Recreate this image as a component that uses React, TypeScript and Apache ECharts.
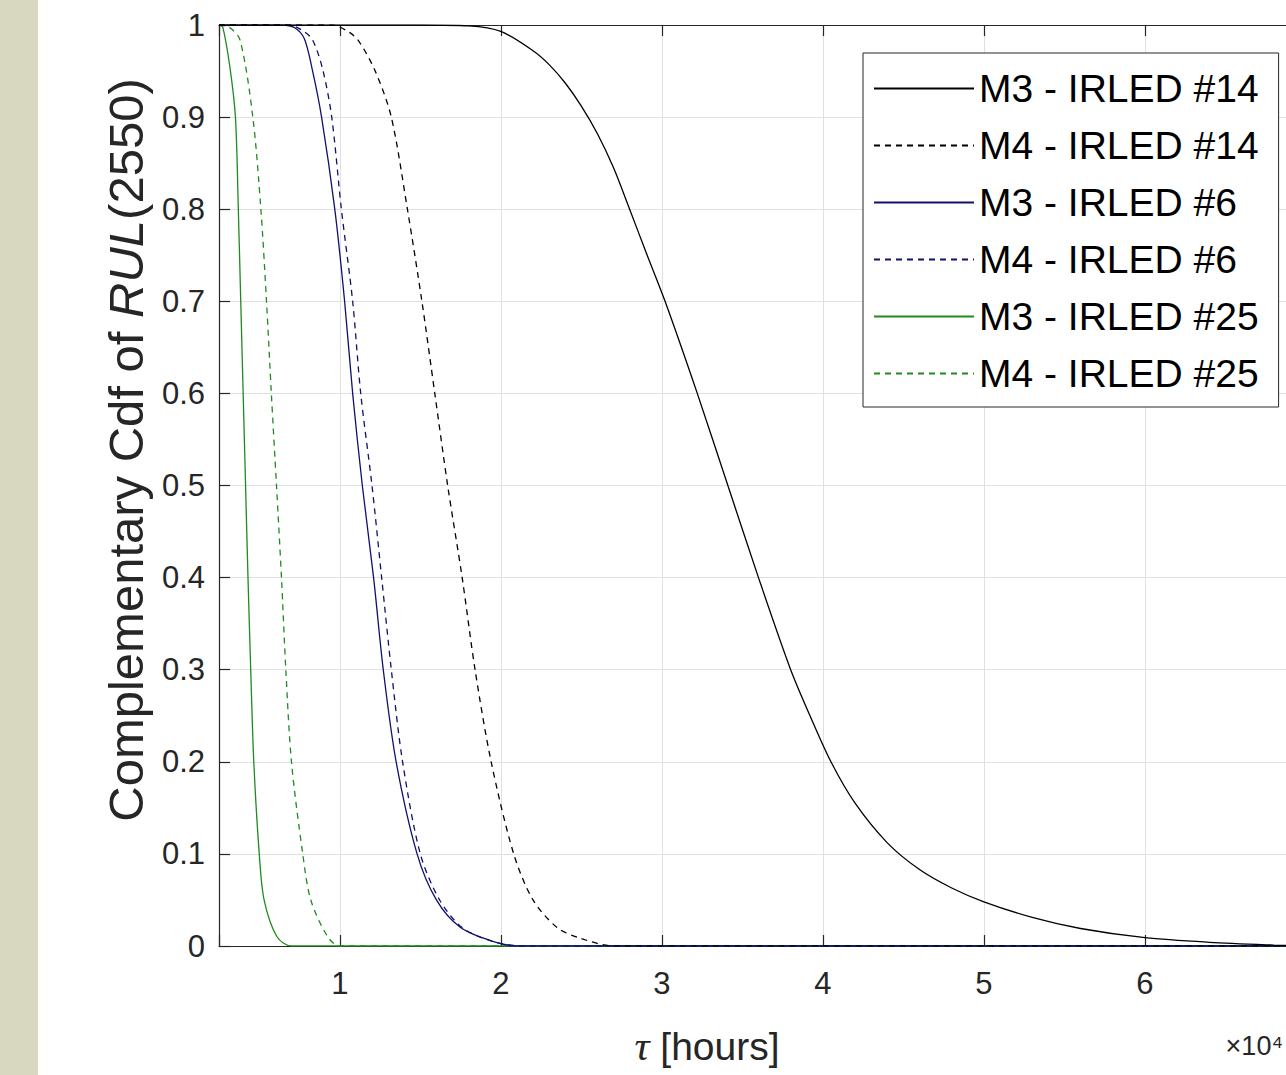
import React, { useEffect, useRef } from 'react';
import * as echarts from 'echarts';

const seriesNames = [
  'M3 - IRLED #14',
  'M4 - IRLED #14',
  'M3 - IRLED #6',
  'M4 - IRLED #6',
  'M3 - IRLED #25',
  'M4 - IRLED #25',
];

const m3Irled14 = [
  [0.25, 1], [1.5, 1], [1.8, 0.999], [2.0, 0.993], [2.2, 0.972], [2.3, 0.957], [2.4, 0.937],
  [2.5, 0.912], [2.6, 0.882], [2.7, 0.845], [2.8, 0.8], [2.9, 0.754], [3.02, 0.7], [3.22, 0.6],
  [3.41, 0.5], [3.6, 0.4], [3.8, 0.3], [3.92, 0.25], [4.05, 0.2], [4.2, 0.155], [4.4, 0.112],
  [4.6, 0.083], [4.8, 0.063], [5.0, 0.048], [5.3, 0.031], [5.6, 0.019], [6.0, 0.009],
  [6.4, 0.004], [6.8, 0.001], [7.0, 0],
];
const m4Irled14 = [
  [0.25, 1], [0.95, 1], [1.06, 0.992], [1.12, 0.982], [1.22, 0.95], [1.32, 0.9], [1.42, 0.8],
  [1.51, 0.7], [1.59, 0.6], [1.67, 0.5], [1.76, 0.4], [1.84, 0.3], [1.94, 0.2], [2.08, 0.1],
  [2.2, 0.05], [2.35, 0.02], [2.5, 0.008], [2.7, 0], [7.0, 0],
];
const m3Irled6 = [
  [0.25, 1], [0.64, 1], [0.72, 0.997], [0.78, 0.985], [0.83, 0.951], [0.887, 0.9], [0.969, 0.8],
  [1.03, 0.7], [1.08, 0.6], [1.14, 0.5], [1.21, 0.4], [1.27, 0.3], [1.35, 0.2], [1.48, 0.1],
  [1.6, 0.05], [1.75, 0.02], [1.95, 0.005], [2.1, 0], [7.0, 0],
];
const m4Irled6 = [
  [0.25, 1], [0.68, 1], [0.76, 0.995], [0.83, 0.984], [0.895, 0.951], [0.95, 0.9], [1.01, 0.8],
  [1.08, 0.7], [1.13, 0.6], [1.2, 0.5], [1.26, 0.4], [1.32, 0.3], [1.39, 0.2], [1.5, 0.1],
  [1.62, 0.05], [1.76, 0.02], [1.95, 0.005], [2.15, 0], [7.0, 0],
];
const m3Irled25 = [
  [0.25, 1], [0.273, 0.998], [0.317, 0.955], [0.352, 0.9], [0.37, 0.8], [0.385, 0.7], [0.4, 0.6],
  [0.415, 0.5], [0.43, 0.4], [0.447, 0.3], [0.466, 0.2], [0.5, 0.1], [0.53, 0.05], [0.61, 0.01],
  [0.7, 0], [7.0, 0],
];
const m4Irled25 = [
  [0.25, 1], [0.31, 0.998], [0.38, 0.984], [0.46, 0.9], [0.51, 0.8], [0.545, 0.7], [0.575, 0.6],
  [0.607, 0.5], [0.638, 0.4], [0.665, 0.3], [0.7, 0.2], [0.77, 0.1], [0.82, 0.05], [0.925, 0.01],
  [1.0, 0], [7.0, 0],
];

const seriesData = [m3Irled14, m4Irled14, m3Irled6, m4Irled6, m3Irled25, m4Irled25];
const seriesColors = ['#000000', '#000000', '#10106e', '#10106e', '#1f8a1f', '#1f8a1f'];
const seriesDashed = [false, true, false, true, false, true];

const xMin = 0.25;
const xMax = 7;
const yMin = 0;
const yMax = 1;
const yStep = 0.1;

const yTitleParts = ['Complementary Cdf of ', 'RUL', '(2550)'];
const xTitleParts = ['τ', ' [hours]'];
const xExponent = '×10⁴';

const FONT = '"Liberation Sans", Arial, Helvetica, sans-serif';
const AX = '#262626';

export default function App() {
  const ref = useRef<HTMLDivElement>(null);

  useEffect(() => {
    if (!ref.current) return;
    const chart = echarts.init(ref.current, null, { renderer: 'svg' });

    const series = seriesData.map((d, i) => ({
      name: seriesNames[i],
      type: 'line',
      data: d,
      xAxisIndex: 0,
      yAxisIndex: 0,
      showSymbol: false,
      symbol: 'none',
      smooth: 0.3,
      clip: true,
      z: 10 - i,
      lineStyle: {
        color: seriesColors[i],
        width: 1.3,
        type: seriesDashed[i] ? [6, 5] : 'solid',
      },
      itemStyle: { color: seriesColors[i] },
      emphasis: { disabled: true },
    }));

    chart.setOption({
      animation: false,
      backgroundColor: '#ffffff',
      grid: {
        left: 219,
        top: 25,
        width: 1087,
        height: 921,
        containLabel: false,
        outerBoundsMode: 'none',
        show: false,
      },
      legend: {
        show: true,
        data: seriesNames,
        orient: 'vertical',
        left: 863,
        top: 53,
        padding: [13, 20, 11, 10],
        itemWidth: 100,
        itemHeight: 20,
        itemGap: 12,
        backgroundColor: '#ffffff',
        borderColor: AX,
        borderWidth: 1,
        borderRadius: 0,
        selectedMode: false,
        itemStyle: { color: 'rgba(0,0,0,0)', borderWidth: 0, opacity: 0 },
        textStyle: { fontSize: 39, fontFamily: FONT, color: '#000000', lineHeight: 45 },
      },
      xAxis: [
        {
          type: 'value',
          min: xMin,
          max: xMax,
          minInterval: 1,
          maxInterval: 1,
          position: 'bottom',
          axisLine: { show: true, onZero: false, lineStyle: { color: AX, width: 1.2 } },
          axisTick: { show: true, inside: true, length: 11, lineStyle: { color: AX, width: 1.2 } },
          axisLabel: {
            show: true,
            margin: 22,
            fontSize: 31,
            fontFamily: FONT,
            color: AX,
            formatter: (v: number) =>
              Math.abs(v - Math.round(v)) < 1e-9 && v < 6.5 ? String(Math.round(v)) : '',
          },
          splitLine: { show: true, lineStyle: { color: '#e0e0e0', width: 1 } },
        },
        {
          type: 'value',
          min: xMin,
          max: xMax,
          minInterval: 1,
          maxInterval: 1,
          position: 'top',
          axisLine: { show: true, onZero: false, lineStyle: { color: AX, width: 1.2 } },
          axisTick: { show: true, inside: true, length: 11, lineStyle: { color: AX, width: 1.2 } },
          axisLabel: { show: false },
          splitLine: { show: false },
        },
      ],
      yAxis: [
        {
          type: 'value',
          min: yMin,
          max: yMax,
          interval: yStep,
          position: 'left',
          axisLine: { show: true, onZero: false, lineStyle: { color: AX, width: 1.2 } },
          axisTick: { show: true, inside: true, length: 11, lineStyle: { color: AX, width: 1.2 } },
          axisLabel: {
            show: true,
            margin: 14,
            fontSize: 31,
            fontFamily: FONT,
            color: AX,
            formatter: (v: number) => String(Math.round(v * 10) / 10),
          },
          splitLine: { show: true, lineStyle: { color: '#e0e0e0', width: 1 } },
        },
      ],
      graphic: [
        {
          type: 'rect',
          left: 0,
          top: 0,
          shape: { x: 0, y: 0, width: 38, height: 1075 },
          style: { fill: '#d8d7bf' },
          silent: true,
        },
        {
          type: 'text',
          x: 126,
          y: 450,
          rotation: Math.PI / 2,
          silent: true,
          style: {
            text: `{n|${yTitleParts[0]}}{i|${yTitleParts[1]}}{n|${yTitleParts[2]}}`,
            align: 'center',
            verticalAlign: 'middle',
            rich: {
              n: { fontSize: 49, fontFamily: FONT, fill: AX },
              i: { fontSize: 49, fontFamily: FONT, fontStyle: 'italic', fill: AX },
            },
          },
        },
        {
          type: 'text',
          x: 707,
          y: 1046,
          silent: true,
          style: {
            text: `{t|${xTitleParts[0]}}{n|${xTitleParts[1]}}`,
            align: 'center',
            verticalAlign: 'middle',
            rich: {
              t: { fontSize: 42, fontFamily: '"Liberation Serif", "DejaVu Serif", serif', fontStyle: 'italic', fill: AX },
              n: { fontSize: 39, fontFamily: FONT, fill: AX },
            },
          },
        },
        {
          type: 'text',
          x: 1283,
          y: 1046,
          silent: true,
          style: {
            text: xExponent,
            align: 'right',
            verticalAlign: 'middle',
            fontSize: 27,
            fontFamily: FONT,
            fill: AX,
          },
        },
      ],
      series,
    });

    return () => chart.dispose();
  }, []);

  return (
    <div
      style={{
        position: 'absolute',
        left: 0,
        top: 0,
        width: 1286,
        height: 1075,
        overflow: 'hidden',
        background: '#ffffff',
      }}
    >
      <div ref={ref} style={{ width: 1330, height: 1075 }} />
    </div>
  );
}
